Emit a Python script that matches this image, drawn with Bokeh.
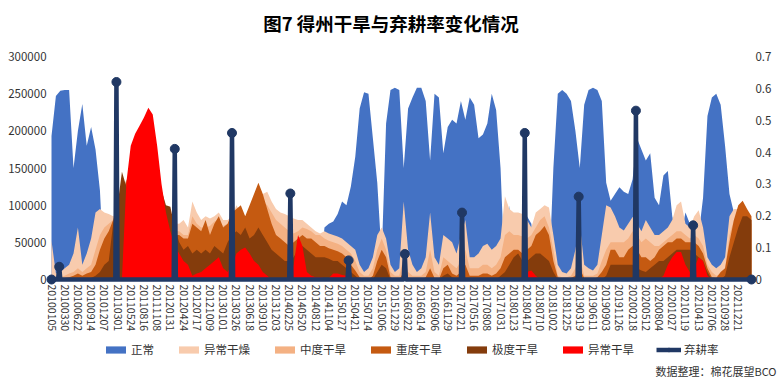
import datetime as dt
from bokeh.plotting import figure
from bokeh.models import (Range1d, LinearAxis, FixedTicker, Legend, LegendItem,
                          Label, NumeralTickFormatter)
from bokeh.embed import file_html
from bokeh.resources import INLINE

# ---------------- data (drought area, thousand sq. miles; one value every 4 weeks from 20100105) ----
start_date = "20100105"
step_weeks = 4

normal_k = [
    193, 247, 254, 255, 255, 150, 200, 236, 180, 205,
    175, 120, 0, 0, 0, 0, 0, 0, 0, 0,
    0, 0, 0, 0, 0, 0, 0, 0, 0, 0,
    0, 0, 0, 0, 0, 0, 0, 0, 0, 0,
    0, 0, 0, 0, 0, 0, 0, 0, 0, 0,
    0, 0, 0, 0, 0, 0, 0, 0, 0, 0,
    0, 0, 70, 75, 78, 88, 105, 100, 125, 165,
    230, 252, 250, 190, 130, 30, 210, 255, 258, 255,
    150, 230, 245, 258, 258, 240, 160, 250, 245, 170,
    205, 215, 210, 240, 215, 245, 235, 190, 195, 210,
    250, 228, 150, 0, 100, 0, 0, 0, 85, 75,
    0, 0, 0, 0, 150, 250, 255, 250, 240, 200,
    150, 235, 255, 258, 255, 240, 130, 106, 115, 124,
    118, 115, 135, 190, 175, 160, 170, 110, 100, 140,
    146, 85, 60, 60, 90, 75, 60, 60, 110, 220,
    245, 250, 235, 180, 115, 90, 0, 0, 0, 0]

abnormal_dry_k = [
    52, 8, 10, 15, 20, 35, 70, 20, 35, 55,
    90, 95, 90, 88, 85, 90, 100, 80, 80, 80,
    80, 80, 80, 80, 80, 80, 80, 80, 75, 75,
    80, 70, 105, 90, 80, 85, 82, 85, 90, 80,
    80, 85, 100, 90, 80, 85, 90, 110, 115, 118,
    105, 95, 90, 88, 85, 82, 80, 80, 75, 70,
    65, 62, 65, 62, 60, 58, 55, 50, 45, 40,
    20, 10, 15, 30, 60, 70, 55, 20, 10, 15,
    105, 40, 20, 10, 15, 30, 90, 30, 20, 60,
    55, 50, 35, 60, 80, 30, 30, 35, 45, 48,
    40, 45, 55, 112, 95, 90, 90, 88, 80, 70,
    90, 95, 100, 97, 60, 20, 10, 8, 15, 40,
    75, 20, 15, 12, 20, 60, 100, 97, 85, 70,
    66, 75, 84, 75, 65, 80, 70, 60, 60, 65,
    70, 80, 100, 105, 75, 70, 85, 93, 70, 30,
    20, 15, 20, 30, 85, 95, 95, 90, 85, 80]

moderate_k = [
    5, 3, 3, 5, 8, 10, 15, 10, 15, 20,
    40, 60, 70, 75, 80, 85, 90, 80, 70, 70,
    70, 70, 70, 70, 70, 70, 70, 70, 65, 65,
    60, 60, 85, 75, 70, 70, 72, 78, 80, 72,
    75, 80, 90, 85, 85, 85, 88, 100, 105, 100,
    90, 80, 75, 70, 65, 62, 65, 70, 68, 65,
    60, 60, 55, 52, 50, 48, 45, 40, 35, 25,
    10, 5, 5, 15, 40, 55, 40, 10, 5, 5,
    30, 10, 5, 5, 5, 10, 40, 10, 5, 30,
    25, 20, 15, 25, 40, 15, 15, 15, 20, 20,
    15, 20, 30, 60, 65, 60, 60, 58, 55, 60,
    70, 80, 85, 70, 40, 5, 3, 3, 5, 15,
    30, 5, 5, 5, 8, 25, 40, 50, 50, 50,
    50, 55, 65, 60, 50, 55, 50, 45, 45, 50,
    55, 60, 65, 65, 60, 55, 60, 55, 45, 20,
    10, 5, 8, 15, 60, 80, 90, 85, 80, 75]

severe_k = [
    2, 1, 1, 2, 3, 5, 8, 5, 8, 10,
    20, 40, 55, 65, 80, 100, 110, 135, 100, 100,
    100, 100, 100, 100, 100, 100, 90, 85, 60, 60,
    55, 55, 75, 70, 65, 80, 60, 75, 85, 70,
    75, 90, 95, 100, 85, 100, 115, 130, 115, 95,
    75, 60, 55, 50, 45, 50, 55, 60, 55, 55,
    50, 45, 45, 42, 40, 38, 35, 30, 20, 12,
    3, 0, 0, 5, 25, 40, 30, 3, 0, 0,
    10, 2, 0, 0, 0, 3, 15, 2, 0, 15,
    20, 8, 5, 10, 20, 5, 5, 5, 8, 8,
    5, 8, 15, 30, 35, 40, 40, 35, 40, 45,
    60, 65, 72, 60, 25, 3, 0, 0, 2, 5,
    15, 2, 0, 0, 3, 10, 20, 40, 40, 30,
    30, 40, 45, 40, 30, 30, 25, 30, 40, 45,
    50, 50, 55, 55, 50, 50, 50, 45, 35, 15,
    3, 2, 10, 15, 50, 80, 100, 106, 95, 85]

extreme_k = [
    0, 0, 0, 0, 0, 0, 0, 0, 0, 2,
    5, 10, 20, 25, 75, 100, 145, 125, 120, 120,
    120, 120, 120, 120, 120, 120, 100, 98, 70, 50,
    40, 45, 35, 40, 35, 40, 35, 45, 40, 35,
    50, 60, 65, 60, 70, 55, 60, 70, 60, 50,
    40, 35, 30, 25, 25, 30, 40, 45, 40, 35,
    30, 30, 30, 28, 25, 25, 20, 15, 10, 5,
    0, 0, 0, 0, 10, 20, 15, 0, 0, 0,
    0, 0, 0, 0, 0, 0, 0, 0, 0, 5,
    8, 3, 0, 0, 0, 0, 0, 0, 0, 0,
    0, 0, 5, 10, 20, 30, 35, 25, 25, 30,
    35, 35, 30, 25, 10, 0, 0, 0, 0, 0,
    0, 0, 0, 0, 0, 0, 5, 20, 20, 20,
    20, 20, 20, 15, 12, 10, 15, 20, 25, 25,
    30, 35, 40, 40, 40, 40, 35, 30, 25, 10,
    0, 0, 0, 5, 30, 50, 70, 85, 85, 80]

exceptional_k = [
    0, 0, 0, 0, 0, 0, 0, 0, 0, 0,
    0, 0, 0, 0, 0, 0, 0, 130, 180, 196,
    207, 218, 231, 222, 180, 128, 90, 65, 45, 35,
    25, 20, 5, 8, 10, 15, 20, 25, 30, 15,
    10, 20, 35, 40, 43, 35, 25, 20, 10, 5,
    0, 0, 0, 0, 0, 20, 60, 45, 10, 5,
    3, 3, 2, 2, 8, 8, 6, 5, 0, 0,
    0, 0, 0, 0, 0, 0, 0, 0, 0, 0,
    0, 0, 0, 0, 0, 0, 0, 0, 0, 0,
    0, 0, 0, 0, 0, 0, 0, 0, 0, 0,
    0, 0, 0, 0, 0, 0, 0, 0, 10, 12,
    5, 0, 0, 0, 0, 0, 0, 0, 0, 0,
    0, 0, 0, 0, 0, 0, 0, 0, 0, 0,
    0, 0, 0, 0, 0, 0, 0, 0, 0, 5,
    20, 30, 37, 37, 20, 10, 15, 30, 25, 5,
    0, 0, 0, 0, 0, 0, 0, 0, 0, 0]

# abandonment rate (weekly series: zero except these weeks)
abandon_dates = ["20100223", "20110222", "20120228", "20130226", "20140304", "20150310",
                 "20160301", "20170228", "20180403", "20190312", "20200310", "20210309"]
abandon_rate = [0.04, 0.62, 0.41, 0.46, 0.27, 0.06, 0.08, 0.21, 0.46, 0.26, 0.53, 0.17]
end_date = "20220315"

tick_labels = [
    "20100105", "20100330", "20100622", "20100914", "20101207", "20110301", "20110524",
    "20110816", "20111108", "20120131", "20120424", "20120717", "20121009", "20130101",
    "20130326", "20130618", "20130910", "20131203", "20140225", "20140520", "20140812",
    "20141104", "20150127", "20150421", "20150714", "20151006", "20151229", "20160322",
    "20160614", "20160906", "20161129", "20170221", "20170516", "20170808", "20171031",
    "20180123", "20180417", "20180710", "20181002", "20181225", "20190319", "20190611",
    "20190903", "20191126", "20200218", "20200512", "20200804", "20201027", "20210119",
    "20210413", "20210706", "20210928", "20211221"]

title_text = "图7 得州干旱与弃耕率变化情况"
series_names = ["正常", "异常干燥", "中度干旱", "重度干旱", "极度干旱", "异常干旱"]
series_colors = ["#4472C4", "#F8CBAD", "#F4B183", "#C55A11", "#843C0C", "#FF0000"]
rate_name = "弃耕率"
rate_color = "#203864"
source_text = "数据整理：棉花展望BCO"

# ---------------- helpers ----------------
t0 = dt.datetime.strptime(start_date, "%Y%m%d")


def week_of(s):
    return (dt.datetime.strptime(s, "%Y%m%d") - t0).days // 7


K = 1000
weeks = [i * step_weeks for i in range(len(normal_k))]
series = [normal_k, abnormal_dry_k, moderate_k, severe_k, extreme_k, exceptional_k]

last_week = week_of(end_date)
rate_weeks = list(range(0, last_week + 1))
rate_lookup = {week_of(d): r for d, r in zip(abandon_dates, abandon_rate)}
rate_vals = [rate_lookup.get(w, 0.0) for w in rate_weeks]
mk_x = [w for w, r in zip(rate_weeks, rate_vals) if r > 0 or w in (0, last_week)]
mk_y = [rate_lookup.get(w, 0.0) for w in mk_x]

# ---------------- layout geometry (pixels, frame = whole canvas) ----------------
FONT = "Noto Sans CJK SC"
TXT = "#333333"
LEFT_MAX = 300000
RATE_MAX = 0.7
CANVAS_W = 784
CANVAS_H = 383
PX_TOP_VAL = 56         # row of 300000 / 0.7
PX_ZERO = 279           # row of 0
PX_PER_WEEK = 1.1006
PX_WEEK0 = 51           # column of the first week
AXIS_PAD_WEEKS = 1.8

upp = LEFT_MAX / (PX_ZERO - PX_TOP_VAL)
y_lo = -(CANVAS_H - PX_ZERO) * upp
y_hi = LEFT_MAX + PX_TOP_VAL * upp
rate_scale = RATE_MAX / LEFT_MAX
x_lo = -PX_WEEK0 / PX_PER_WEEK
x_hi = x_lo + CANVAS_W / PX_PER_WEEK

p = figure(frame_width=CANVAS_W, frame_height=CANVAS_H, output_backend="svg",
           toolbar_location=None, title=None,
           x_range=Range1d(x_lo, x_hi), y_range=Range1d(y_lo, y_hi),
           min_border_left=0, min_border_right=0, min_border_top=0, min_border_bottom=0)
p.extra_y_ranges = {"rate": Range1d(y_lo * rate_scale, y_hi * rate_scale)}
p.outline_line_color = None
p.xgrid.grid_line_color = None
p.ygrid.grid_line_color = None
p.background_fill_color = "white"
p.border_fill_color = "white"

renderers = []
for vals, color in zip(series, series_colors):
    r = p.varea(x=weeks, y1=0, y2=[v * K for v in vals], fill_color=color, fill_alpha=1.0)
    renderers.append(r)

rl = p.line(rate_weeks, rate_vals, y_range_name="rate", line_color=rate_color,
            line_width=4.5, line_join="round")
rm = p.scatter(mk_x, mk_y, y_range_name="rate", size=9, fill_color=rate_color,
               line_color=rate_color)

# x axis on the zero line
tick_pos = [week_of(s) for s in tick_labels]
xa = p.xaxis[0]
xa.fixed_location = 0
xa.ticker = FixedTicker(ticks=tick_pos)
xa.major_label_overrides = {w: s for w, s in zip(tick_pos, tick_labels)}
xa.major_label_orientation = "vertical"
xa.axis_line_color = None
xa.major_tick_line_color = None
xa.minor_tick_line_color = None
xa.major_tick_out = 0
xa.major_tick_in = 0
xa.major_label_standoff = 5
xa.major_label_text_font = FONT
xa.major_label_text_font_size = "10.5px"
xa.major_label_text_color = TXT

# left axis just left of the first week
ya = p.yaxis[0]
ya.fixed_location = -AXIS_PAD_WEEKS
ya.ticker = FixedTicker(ticks=list(range(0, LEFT_MAX + 1, 50000)))
ya.formatter = NumeralTickFormatter(format="0")
ya.axis_line_color = None
ya.major_tick_line_color = None
ya.minor_tick_line_color = None
ya.major_tick_out = 0
ya.major_tick_in = 0
ya.major_label_standoff = 3
ya.major_label_text_font = FONT
ya.major_label_text_font_size = "11.5px"
ya.major_label_text_color = TXT

# right axis just right of the last week
ra = LinearAxis(y_range_name="rate", fixed_location=last_week + AXIS_PAD_WEEKS,
                ticker=FixedTicker(ticks=[0, 0.1, 0.2, 0.3, 0.4, 0.5, 0.6, 0.7]))
ra.major_label_overrides = {0: "0"}
ra.axis_line_color = None
ra.major_tick_line_color = None
ra.minor_tick_line_color = None
ra.major_tick_out = 0
ra.major_tick_in = 0
ra.major_label_standoff = 2
ra.major_label_text_font = FONT
ra.major_label_text_font_size = "11.5px"
ra.major_label_text_color = TXT
p.add_layout(ra, "right")

# title, legend and source note
title = Label(x=390.5, y=CANVAS_H - 22, x_units="screen", y_units="screen", text=title_text,
              text_align="center", text_baseline="middle", text_font=FONT,
              text_font_size="18.5px", text_font_style="bold", text_color="#000000")
p.add_layout(title)

items = [LegendItem(label=n, renderers=[r]) for n, r in zip(series_names, renderers)]
items.append(LegendItem(label=rate_name, renderers=[rl, rm]))
legend = Legend(items=items, orientation="horizontal", location=(103, CANVAS_H - 357),
                glyph_width=25, glyph_height=9, label_standoff=3, spacing=22,
                padding=0, margin=0, border_line_color=None, background_fill_alpha=0,
                label_text_font=FONT, label_text_font_size="11.5px", label_text_color=TXT)
p.add_layout(legend, "center")

src = Label(x=776, y=CANVAS_H - 370, x_units="screen", y_units="screen", text=source_text,
            text_align="right", text_baseline="middle", text_font=FONT,
            text_font_size="11px", text_color=TXT)
p.add_layout(src)

open("out.html", "w").write(file_html(p, INLINE))
